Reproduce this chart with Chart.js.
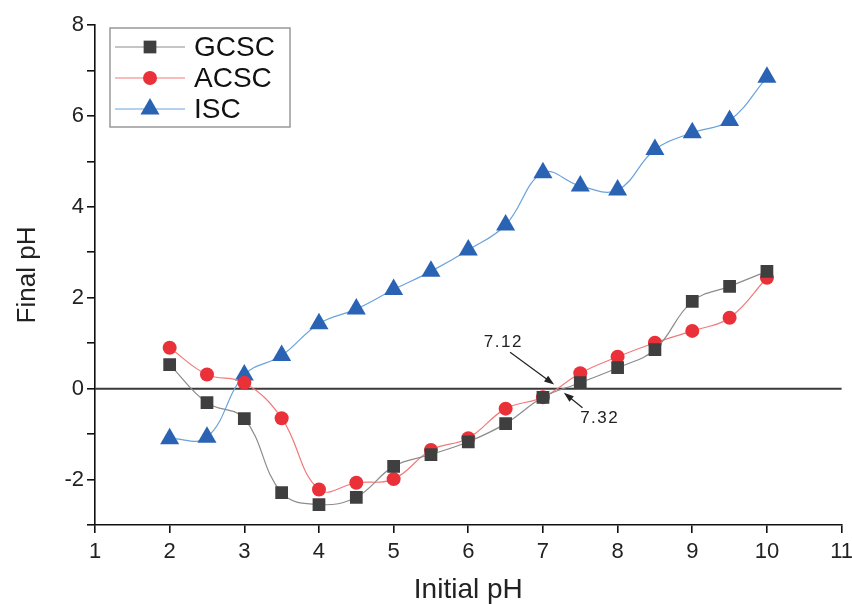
<!DOCTYPE html>
<html>
<head>
<meta charset="utf-8">
<title>Final pH vs Initial pH</title>
<script src="https://cdn.jsdelivr.net/npm/chart.js@4.4.1/dist/chart.umd.min.js"></script>
<style>
  html, body { margin: 0; padding: 0; background: #fff; overflow: hidden; }
  #wrap { width: 852px; height: 604px; overflow: hidden; }
</style>
</head>
<body>
<div id="wrap"><canvas id="phChart" width="859" height="604"></canvas></div>
<script>
// Data
const initialPH = [2, 2.5, 3, 3.5, 4, 4.5, 5, 5.5, 6, 6.5, 7, 7.5, 8, 8.5, 9, 9.5, 10];
const gcscPH = [0.53, -0.31, -0.66, -2.29, -2.55, -2.39, -1.71, -1.45, -1.17, -0.77, -0.19, 0.13, 0.46, 0.86, 1.92, 2.25, 2.58];
const acscPH = [0.90, 0.31, 0.13, -0.65, -2.22, -2.07, -1.99, -1.35, -1.09, -0.44, -0.19, 0.34, 0.70, 1.01, 1.27, 1.56, 2.44];
const iscPH = [-1.10, -1.07, 0.30, 0.73, 1.43, 1.75, 2.18, 2.58, 3.05, 3.60, 4.75, 4.46, 4.37, 5.26, 5.63, 5.90, 6.85];
const seriesNames = ['GCSC', 'ACSC', 'ISC'];
const xRange = [1, 11];
const yRange = [-3, 8];

// point-of-zero-charge notes (data coordinates)
const pzcNotes = [
  { text: '7.12', textAt: [6.47, 1.01], from: [6.56, 0.80], to: [7.15, 0.09] },
  { text: '7.32', textAt: [7.76, -0.66], from: [7.53, -0.42], to: [7.28, -0.09] }
];

const FONT = '"Liberation Sans", Arial, sans-serif';

function toPoints(ys) {
  return initialPH.map((x, i) => ({ x: x, y: ys[i] }));
}

// Horizontal reference line at Final pH = 0
const zeroLine = {
  id: 'zeroLine',
  beforeDatasetsDraw(chart) {
    const { ctx, chartArea, scales } = chart;
    const y = scales.y.getPixelForValue(0);
    ctx.save();
    ctx.strokeStyle = '#3a3a3a';
    ctx.lineWidth = 2;
    ctx.beginPath();
    ctx.moveTo(chartArea.left, y);
    ctx.lineTo(chartArea.right, y);
    ctx.stroke();
    ctx.restore();
  }
};

// Arrows + labels for the crossing points
const pzcArrows = {
  id: 'pzcArrows',
  afterDatasetsDraw(chart) {
    const { ctx, scales } = chart;
    const px = v => scales.x.getPixelForValue(v);
    const py = v => scales.y.getPixelForValue(v);
    ctx.save();
    pzcNotes.forEach(n => {
      const x1 = px(n.from[0]), y1 = py(n.from[1]);
      const x2 = px(n.to[0]), y2 = py(n.to[1]);
      const ang = Math.atan2(y2 - y1, x2 - x1);
      ctx.strokeStyle = '#222';
      ctx.fillStyle = '#222';
      ctx.lineWidth = 1.2;
      ctx.beginPath();
      ctx.moveTo(x1, y1);
      ctx.lineTo(x2 - 6 * Math.cos(ang), y2 - 6 * Math.sin(ang));
      ctx.stroke();
      // arrow head
      const len = 10, half = 3.5;
      ctx.beginPath();
      ctx.moveTo(x2, y2);
      ctx.lineTo(x2 - len * Math.cos(ang) + half * Math.sin(ang), y2 - len * Math.sin(ang) - half * Math.cos(ang));
      ctx.lineTo(x2 - len * Math.cos(ang) - half * Math.sin(ang), y2 - len * Math.sin(ang) + half * Math.cos(ang));
      ctx.closePath();
      ctx.fill();
      ctx.font = '17px ' + FONT;
      ctx.letterSpacing = '1.5px';
      ctx.textAlign = 'center';
      ctx.textBaseline = 'middle';
      ctx.fillText(n.text, px(n.textAt[0]), py(n.textAt[1]));
    });
    ctx.restore();
  }
};

// Legend with line + marker, like the original plot
const boxLegend = {
  id: 'boxLegend',
  afterDraw(chart) {
    const { ctx, chartArea } = chart;
    const left = chartArea.left + 15, top = chartArea.top + 3;
    const w = 180, h = 99;
    ctx.save();
    ctx.fillStyle = '#fff';
    ctx.fillRect(left, top, w, h);
    ctx.strokeStyle = '#999';
    ctx.lineWidth = 1.5;
    ctx.strokeRect(left, top, w, h);
    chart.data.datasets.forEach((ds, i) => {
      const y = top + 19 + i * 31;
      ctx.strokeStyle = ds.borderColor;
      ctx.lineWidth = 1.2;
      ctx.beginPath();
      ctx.moveTo(left + 5, y);
      ctx.lineTo(left + 75, y);
      ctx.stroke();
      ctx.fillStyle = ds.pointBackgroundColor;
      Chart.helpers.drawPoint(ctx, {
        pointStyle: ds.pointStyle,
        radius: ds.pointRadius,
        rotation: 0,
        borderWidth: 0
      }, left + 40, y);
      ctx.fillStyle = '#111';
      ctx.font = '28px ' + FONT;
      ctx.textAlign = 'left';
      ctx.textBaseline = 'middle';
      ctx.fillText(ds.label, left + 84, y + 1);
    });
    ctx.restore();
  }
};

const ctx = document.getElementById('phChart').getContext('2d');
const phChart = new Chart(ctx, {
  type: 'line',
  data: {
    datasets: [
      {
        label: seriesNames[0],
        data: toPoints(gcscPH),
        borderColor: '#8c8c8c',
        borderWidth: 1.2,
        pointStyle: 'rect',
        pointRadius: 9,
        pointBackgroundColor: '#3f3f3f',
        pointBorderWidth: 0,
        tension: 0.4
      },
      {
        label: seriesNames[1],
        data: toPoints(acscPH),
        borderColor: '#f27a7a',
        borderWidth: 1.2,
        pointStyle: 'circle',
        pointRadius: 7,
        pointBackgroundColor: '#ea3038',
        pointBorderWidth: 0,
        tension: 0.4
      },
      {
        label: seriesNames[2],
        data: toPoints(iscPH),
        borderColor: '#6aa3dc',
        borderWidth: 1.2,
        pointStyle: 'triangle',
        pointRadius: 11,
        pointBackgroundColor: '#2a63b4',
        pointBorderWidth: 0,
        tension: 0.4
      }
    ]
  },
  options: {
    responsive: false,
    animation: false,
    devicePixelRatio: 1,
    layout: { padding: { top: 25, left: 0, right: 0, bottom: 0 } },
    plugins: {
      legend: { display: false },
      tooltip: { enabled: false }
    },
    scales: {
      x: {
        type: 'linear',
        min: xRange[0],
        max: xRange[1],
        border: { color: '#111', width: 1.6 },
        grid: { display: true, drawOnChartArea: false, drawTicks: true, tickLength: 8, color: '#111', lineWidth: 1.6 },
        ticks: { stepSize: 1, color: '#222', padding: 6, font: { family: FONT, size: 22 } },
        title: { display: true, text: 'Initial pH', color: '#222', padding: { top: 0, bottom: 0 }, font: { family: FONT, size: 28, lineHeight: 1 } },
        afterFit(scale) { scale.height = 79; }
      },
      y: {
        type: 'linear',
        min: yRange[0],
        max: yRange[1],
        border: { color: '#111', width: 1.6 },
        grid: { display: true, drawOnChartArea: false, drawTicks: true, tickLength: 8, color: '#111', lineWidth: 1.6 },
        ticks: {
          stepSize: 1,
          color: '#222',
          padding: 3,
          font: { family: FONT, size: 22 },
          callback: v => (v % 2 === 0 && v > yRange[0]) ? v : ''
        },
        title: { display: true, text: 'Final pH', color: '#222', padding: { top: 15, bottom: 0 }, font: { family: FONT, size: 26, lineHeight: 1 } },
        afterFit(scale) { scale.width = 95; }
      }
    }
  },
  plugins: [zeroLine, pzcArrows, boxLegend]
});
</script>
</body>
</html>
